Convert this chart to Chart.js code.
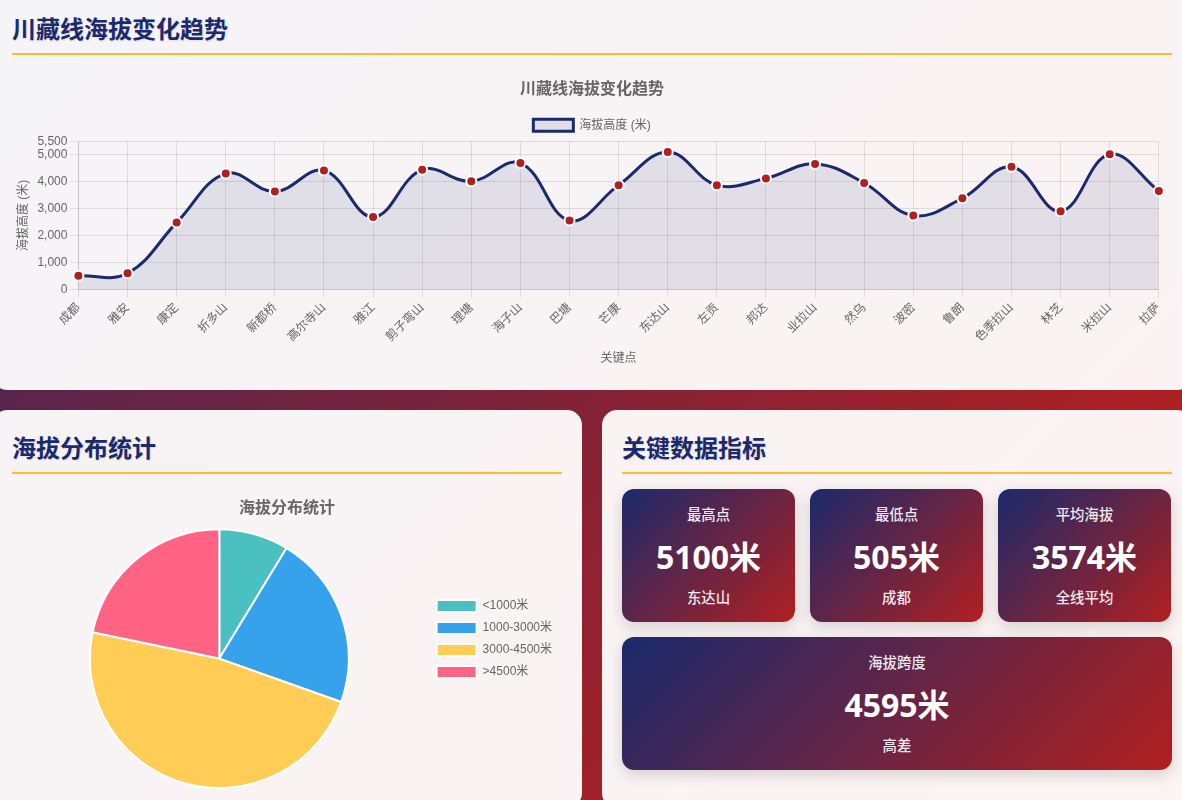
<!DOCTYPE html>
<html lang="zh-CN">
<head>
<meta charset="utf-8">
<title>川藏线海拔变化趋势</title>
<script src="https://cdn.jsdelivr.net/npm/chart.js@4"></script>
<style>
    html, body { margin: 0; height: 800px; overflow: hidden; }
    body {
        position: relative;
        width: 1182px;
        font-family: "Open Sans", "Noto Sans CJK SC", sans-serif;
        background: linear-gradient(135deg, #3e275a 0%, #b21f1f 83%, #be3821 100%);
    }
    .card {
        position: absolute;
        box-sizing: border-box;
        padding: 20px;
        border-radius: 15px;
        background: rgba(255, 255, 255, 0.95);
    }
    #trendCard { left: -8px; top: -9px; width: 1200px; height: 399px; }
    #pieCard { left: -8px; top: 410px; width: 590px; height: 398px; }
    #statCard { left: 602px; top: 410px; width: 590px; height: 398px; }
    h2 {
        margin: 0 0 15px;
        height: 42px;
        line-height: 34px;
        font-size: 24px;
        font-weight: 700;
        color: #1a2a6c;
        border-bottom: 2px solid #fdbb2d;
        font-family: "Noto Sans CJK SC", sans-serif;
        text-shadow: 1px 1px 2px rgba(0, 0, 0, 0.1);
    }
    .chartBox { position: relative; height: 300px; }
    .statGrid {
        display: grid;
        grid-template-columns: 173px 173px 173px;
        gap: 15px;
    }
    .stat {
        height: 133px;
        box-sizing: border-box;
        padding-top: 16px;
        border-radius: 12px;
        text-align: center;
        color: #fff;
        background: linear-gradient(135deg, #1a2a6c, #b21f1f);
        box-shadow: 0 5px 15px rgba(0, 0, 0, 0.15);
    }
    .stat.wide { grid-column: span 3; width: 550px; }
    .statLabel, .statNote { font-size: 14.4px; line-height: 20px; font-weight: 500; opacity: 0.9; }
    .statValue { font-size: 32px; line-height: 44px; font-weight: 700; margin: 10px 0 9px; }
</style>
</head>
<body>
<div class="card" id="trendCard">
    <h2>川藏线海拔变化趋势</h2>
    <div class="chartBox"><canvas id="elevationChart"></canvas></div>
</div>
<div class="card" id="pieCard">
    <h2>海拔分布统计</h2>
    <div class="chartBox"><canvas id="distributionChart"></canvas></div>
</div>
<div class="card" id="statCard">
    <h2>关键数据指标</h2>
    <div class="statGrid" id="statGrid"></div>
</div>

<script>
const places = ['成都', '雅安', '康定', '折多山', '新都桥', '高尔寺山', '雅江', '剪子弯山', '理塘', '海子山', '巴塘', '芒康',
    '东达山', '左贡', '邦达', '业拉山', '然乌', '波密', '鲁朗', '色季拉山', '林芝', '米拉山', '拉萨'];
const elevations = [505, 600, 2480, 4298, 3630, 4412, 2690, 4440, 4014, 4690, 2555, 3870,
    5100, 3870, 4120, 4658, 3950, 2740, 3385, 4550, 2900, 5013, 3650];
const bandLabels = ['<1000米', '1000-3000米', '3000-4500米', '>4500米'];
const bandCounts = [2, 5, 11, 5];
const bandColors = ['#4bc0c0', '#36a2eb', '#ffcd56', '#ff6384'];

const statLabels = ['最高点', '最低点', '平均海拔', '海拔跨度'];
const statValues = ['5100米', '505米', '3574米', '4595米'];
const statNotes = ['东达山', '成都', '全线平均', '高差'];

Chart.defaults.animation = false;
Chart.defaults.font.family = '"Liberation Sans", "Noto Sans CJK SC", sans-serif';

// Line chart: elevation along the route
const elevationCtx = document.getElementById('elevationChart').getContext('2d');
new Chart(elevationCtx, {
    type: 'line',
    data: {
        labels: places,
        datasets: [{
            label: '海拔高度 (米)',
            data: elevations,
            borderColor: '#1a2a6c',
            backgroundColor: 'rgba(26, 42, 108, 0.1)',
            borderWidth: 3,
            fill: true,
            tension: 0.4,
            pointBackgroundColor: '#b21f1f',
            pointBorderColor: '#fff',
            pointBorderWidth: 2,
            pointRadius: 5
        }]
    },
    options: {
        responsive: true,
        maintainAspectRatio: false,
        plugins: {
            title: { display: true, text: '川藏线海拔变化趋势', font: { size: 16, weight: 'bold' } }
        },
        scales: {
            x: {
                title: { display: true, text: '关键点' },
                ticks: { minRotation: 45, maxRotation: 45, autoSkip: false }
            },
            y: {
                beginAtZero: true,
                max: 5500,
                title: { display: true, text: '海拔高度 (米)' },
                ticks: { stepSize: 1000 }
            }
        }
    }
});

// Pie chart: how many key points fall in each band
const distributionCtx = document.getElementById('distributionChart').getContext('2d');
new Chart(distributionCtx, {
    type: 'pie',
    data: {
        labels: bandLabels,
        datasets: [{
            data: bandCounts,
            backgroundColor: bandColors,
            borderColor: '#fff',
            borderWidth: 2
        }]
    },
    options: {
        responsive: true,
        maintainAspectRatio: false,
        plugins: {
            title: { display: true, text: '海拔分布统计', font: { size: 16, weight: 'bold' } },
            legend: { position: 'right' }
        }
    }
});

// Stat tiles
const statGrid = document.getElementById('statGrid');
statLabels.forEach(function (label, i) {
    const tile = document.createElement('div');
    tile.className = i === 3 ? 'stat wide' : 'stat';
    tile.innerHTML = '<div class="statLabel">' + label + '</div>' +
        '<div class="statValue">' + statValues[i] + '</div>' +
        '<div class="statNote">' + statNotes[i] + '</div>';
    statGrid.appendChild(tile);
});
</script>
</body>
</html>
